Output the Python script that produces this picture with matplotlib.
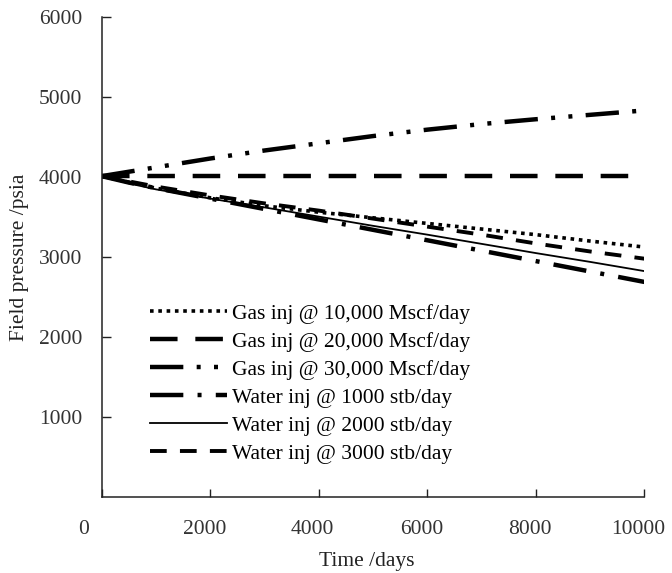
import numpy as np
import matplotlib
matplotlib.use("Agg")
import matplotlib.pyplot as plt
from matplotlib.transforms import ScaledTranslation

# series (time in days, field pressure in psia)
t_gas10 = [0, 1000, 2000, 3000, 4000, 5000, 6000, 7000, 8000, 9000, 10000]
p_gas10 = [4010, 3860, 3740, 3640, 3560, 3490, 3420, 3350, 3280, 3200, 3125]

t_gas20 = [0, 10000]
p_gas20 = [4010, 4010]

t_gas30 = [0, 1000, 2000, 3000, 4000, 5000, 6000, 7000, 8000, 9000, 10000]
p_gas30 = [4010, 4120, 4230, 4330, 4420, 4510, 4590, 4660, 4720, 4775, 4830]

t_wat1000 = [0, 500, 1000, 2000, 3000, 4000, 5000, 6000, 7000, 8000, 9000, 10000]
p_wat1000 = [4010, 3930, 3860, 3730, 3600, 3470, 3340, 3210, 3080, 2950, 2820, 2690]

t_wat2000 = [0, 500, 1000, 2000, 3000, 4000, 5000, 6000, 7000, 8000, 9000, 10000]
p_wat2000 = [4010, 3920, 3845, 3730, 3620, 3505, 3390, 3280, 3165, 3050, 2940, 2825]

t_wat3000 = [0, 1000, 2000, 3000, 4000, 5000, 6000, 7000, 8000, 9000, 10000]
p_wat3000 = [4010, 3880, 3770, 3670, 3580, 3480, 3380, 3280, 3170, 3070, 2980]

labels = [
    "Gas inj @ 10,000 Mscf/day",
    "Gas inj @ 20,000 Mscf/day",
    "Gas inj @ 30,000 Mscf/day",
    "Water inj @ 1000 stb/day",
    "Water inj @ 2000 stb/day",
    "Water inj @ 3000 stb/day",
]

x_ticks = [0, 2000, 4000, 6000, 8000, 10000]
y_ticks = [1000, 2000, 3000, 4000, 5000, 6000]

plt.rcParams["font.family"] = ["Liberation Serif", "DejaVu Serif"]
plt.rcParams["font.size"] = 15.5

fig = plt.figure(figsize=(6.72, 5.73), dpi=100)
ax = fig.add_axes([0.1513, 0.1318, 0.8075, 0.8391])

ax.plot(t_gas10, p_gas10, color="black", lw=2.6, ls=(0, (1, 1.3)), label=labels[0])
ax.plot(t_gas20, p_gas20, color="black", lw=3.2, ls=(0, (6.2, 4)), label=labels[1])
ax.plot(t_gas30, p_gas30, color="black", lw=3.2,
        ls=(0, (7.5, 3, 0.9, 3, 0.9, 3)), label=labels[2])
ax.plot(t_wat1000, p_wat1000, color="black", lw=3.2,
        ls=(0, (7.5, 3.2, 0.9, 3.2)), label=labels[3])
ax.plot(t_wat2000, p_wat2000, color="black", lw=1.3, ls="-", label=labels[4])
ax.plot(t_wat3000, p_wat3000, color="black", lw=2.8, ls=(0, (4.3, 3.4)), label=labels[5])

ax.set_xlim(0, 10000)
ax.set_ylim(0, 6000)
ax.set_xticks(x_ticks)
ax.set_yticks(y_ticks)

for side in ["top", "right"]:
    ax.spines[side].set_visible(False)
for side in ["left", "bottom"]:
    ax.spines[side].set_linewidth(1.1)
    ax.spines[side].set_color("#222222")

ax.tick_params(axis="x", direction="in", length=5.5, width=1, pad=16, colors="#222222")
ax.tick_params(axis="y", direction="in", length=6.5, width=1, pad=14, colors="#222222")
for lab in ax.get_xticklabels() + ax.get_yticklabels():
    lab.set_color("#333333")

# tick labels in the reference sit a little left of their ticks
shift = ScaledTranslation(-6 / 100, 0, fig.dpi_scale_trans)
for lab in ax.get_xticklabels():
    lab.set_transform(lab.get_transform() + shift)
zero_shift = ScaledTranslation(-12 / 100, 0, fig.dpi_scale_trans)
ax.get_xticklabels()[0].set_transform(ax.get_xticklabels()[0].get_transform() + zero_shift)

ax.set_xlabel("Time /days", color="#222222")
ax.set_ylabel("Field pressure /psia", color="#222222")
ax.xaxis.set_label_coords(0.489, -0.113)
ax.yaxis.set_label_coords(-0.134, 0.5)

leg = ax.legend(loc="upper left", bbox_to_anchor=(0.089, 0.403), frameon=False,
                borderpad=0, borderaxespad=0, handlelength=3.6, handletextpad=0.2,
                labelspacing=0.37, fontsize=15.5)

fig.savefig("out.png", dpi=100)
